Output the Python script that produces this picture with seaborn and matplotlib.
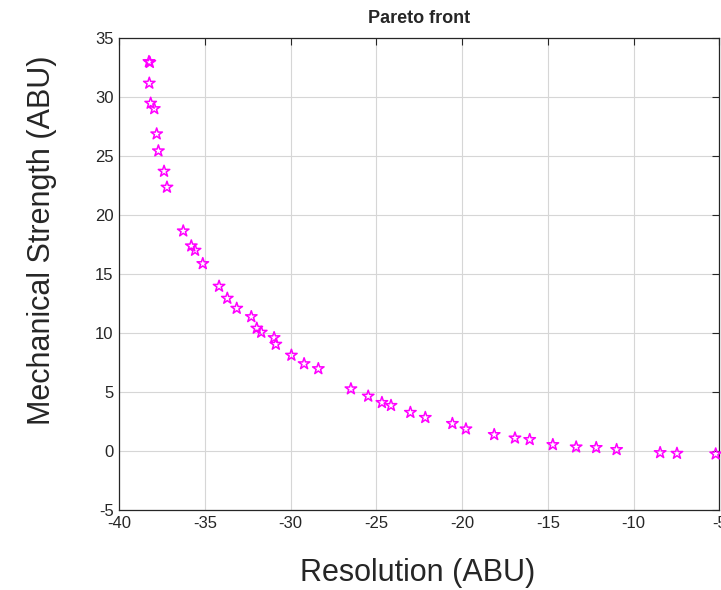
import matplotlib
matplotlib.use("Agg")
import matplotlib.pyplot as plt
import seaborn as sns
import pandas as pd

# Pareto front points
resolution = [-38.27, -38.22, -38.25, -38.17, -37.96, -37.82, -37.72, -37.39, -37.22,
              -36.27, -35.80, -35.58, -35.13, -34.18, -33.70, -33.15, -32.30,
              -31.98, -31.72, -30.97, -30.87, -29.96, -29.22, -28.39, -26.49,
              -25.48, -24.68, -24.15, -23.02, -22.15, -20.57, -19.78, -18.13,
              -16.92, -16.06, -14.71, -13.35, -12.18, -10.99, -8.45, -7.47, -5.21]
strength = [33.02, 32.95, 31.19, 29.49, 29.03, 26.89, 25.45, 23.72, 22.37,
            18.66, 17.39, 17.02, 15.89, 13.97, 12.95, 12.10, 11.39,
            10.41, 10.07, 9.61, 9.05, 8.12, 7.40, 6.98, 5.27,
            4.65, 4.11, 3.86, 3.27, 2.84, 2.33, 1.87, 1.39,
            1.10, 0.97, 0.54, 0.34, 0.29, 0.12, -0.14, -0.20, -0.25]
x_ticks = [-40, -35, -30, -25, -20, -15, -10, -5]
y_ticks = [-5, 0, 5, 10, 15, 20, 25, 30, 35]

df = pd.DataFrame({"Resolution": resolution, "Strength": strength})

sns.set_style("white")
plt.rcParams["font.family"] = ["Liberation Sans", "DejaVu Sans"]
plt.rcParams["axes.unicode_minus"] = False

fig = plt.figure(figsize=(7.21, 5.90), dpi=100)
W, H = 721, 590
ax = fig.add_axes([119.3 / W, 1 - 510 / H, 600 / W, (510 - 38.3) / H])

sns.scatterplot(data=df, x="Resolution", y="Strength", marker="*", s=75,
                linewidth=1.1, ax=ax, clip_on=False, zorder=3)
pts = ax.collections[0]
pts.set_facecolor("none")
pts.set_edgecolor("#FF00FF")

ax.set_xlim(-40, -5)
ax.set_ylim(-5, 35)
ax.set_xticks(x_ticks)
ax.set_yticks(y_ticks)
ax.grid(True, color="#D6D6D6", linewidth=0.8)
ax.set_axisbelow(True)
ax.tick_params(direction="in", length=5, width=0.8, colors="#262626",
               labelsize=12, top=True, right=True, pad=4)
for sp in ax.spines.values():
    sp.set_color("#262626")
    sp.set_linewidth(0.9)

ax.set_xlabel("")
ax.set_ylabel("")
ax.set_title("Pareto front", fontsize=13, fontweight="bold", pad=11)

fig.text(418 / W, 1 - 573 / H, "Resolution (ABU)", fontsize=22,
         ha="center", va="center")
fig.text(42 / W, 1 - 240 / H, "Mechanical Strength (ABU)", fontsize=22,
         rotation=90, ha="center", va="center")

fig.savefig("out.png", dpi=100)
